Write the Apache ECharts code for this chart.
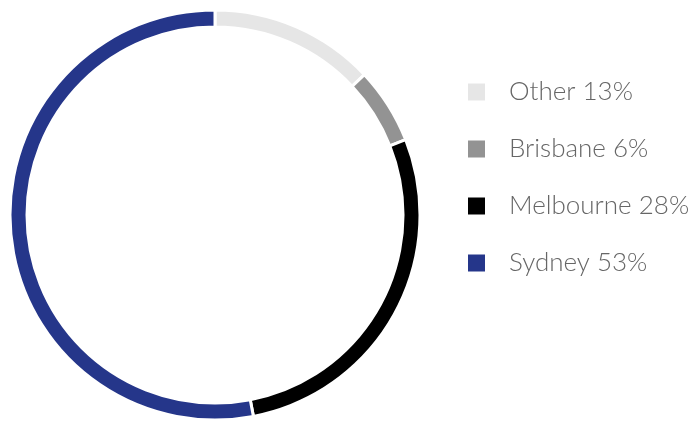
<!DOCTYPE html>
<html>
<head>
<meta charset="utf-8">
<script src="https://cdn.jsdelivr.net/npm/echarts@6/dist/echarts.min.js"></script>
<style>
  html, body { margin: 0; padding: 0; background: #fff; }
  #chart { width: 695px; height: 421px; }
</style>
</head>
<body>
<div id="chart"></div>
<script>
// share of total, percent
var cities = ["Other", "Brisbane", "Melbourne", "Sydney"];
var shares = [13, 6, 28, 53];
var colours = ["#e6e6e6", "#939393", "#000000", "#25368a"];

var chart = echarts.init(document.getElementById("chart"));

var seriesData = cities.map(function (name, i) {
    return { name: name, value: shares[i], itemStyle: { color: colours[i] } };
});

var option = {
    animation: false,
    legend: {
        orient: "vertical",
        left: 466,
        top: 79,
        padding: 0,
        itemWidth: 19,
        itemHeight: 19,
        itemGap: 31,
        icon: "rect",
        textStyle: {
            fontFamily: "Lato",
            fontWeight: 300,
            fontSize: 26,
            lineHeight: 26,
            color: "#666",
            padding: [0, 0, 0, 18]
        },
        formatter: function (name) {
            return name + " " + shares[cities.indexOf(name)] + "%";
        },
        data: cities
    },
    series: [
        {
            type: "pie",
            center: [215, 215],
            radius: [188, 205],
            startAngle: 90,
            clockwise: true,
            label: { show: false },
            labelLine: { show: false },
            emphasis: { disabled: true },
            itemStyle: { borderColor: "#fff", borderWidth: 3 },
            data: seriesData
        }
    ]
};

chart.setOption(option);
</script>
</body>
</html>
